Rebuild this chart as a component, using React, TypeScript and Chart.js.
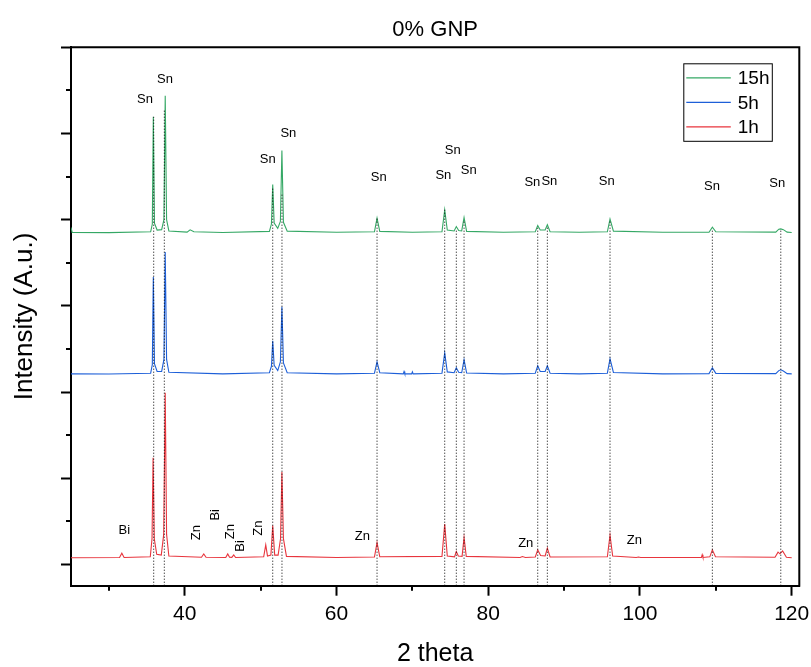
import React, { useEffect, useRef } from "react";
import { Chart, registerables } from "chart.js";

Chart.register(...registerables);

const FONT = '"Liberation Sans", Arial, Helvetica, sans-serif';

const TITLE = "0% GNP";
const X_TITLE = "2 theta";
const Y_TITLE = "Intensity (A.u.)";

const X_MIN = 25;
const X_MAX = 121;
const Y_MIN = -245;
const Y_MAX = 6000;
const X_MAJOR_TICKS = [40, 60, 80, 100, 120];
const X_MINOR_TICKS = [30, 50, 70, 90, 110];
const Y_MAJOR_TICKS = [0, 1000, 2000, 3000, 4000, 5000, 6000];
const Y_MINOR_TICKS = [500, 1500, 2500, 3500, 4500, 5500];

const SERIES_NAMES = ["15h", "5h", "1h"];
const SERIES_COLORS = ["#35a865", "#1d5fd8", "#e8353d"];

// [2theta, intensity (offset as plotted)]
const SERIES_15H: number[][] = [
  [25, 3910], [25.15, 3852], [30, 3850], [35.5, 3860], [35.72, 3950], [35.85, 5193], [36.0, 3960],
  [36.35, 3880], [36.95, 3885], [37.25, 4000], [37.42, 5437], [37.6, 4000], [37.9, 3870],
  [40.3, 3856], [40.7, 3883], [41.2, 3860], [45, 3852], [51.15, 3865], [51.42, 3950], [51.59, 4409],
  [51.78, 3960], [52.25, 3900], [52.6, 3980], [52.8, 4804], [53.0, 3970], [53.5, 3868],
  [60, 3855], [65.0, 3860], [65.34, 4018], [65.7, 3865], [70, 3855], [73.9, 3860],
  [74.26, 4115], [74.6, 3880], [75.5, 3870], [75.79, 3921], [76.1, 3875], [76.5, 3870],
  [76.81, 4025], [77.15, 3865], [82, 3855], [86.2, 3860], [86.52, 3932], [86.85, 3880],
  [87.5, 3880], [87.79, 3941], [88.15, 3860], [92, 3855], [95.7, 3860], [96.05, 4007],
  [96.5, 3868], [103, 3854], [109.1, 3855], [109.54, 3914], [110.0, 3860], [117.9, 3856],
  [118.3, 3890], [118.56, 3894], [118.9, 3885], [119.4, 3856], [120, 3852],
];

const SERIES_5H: number[][] = [
  [25, 2212], [30, 2210], [35.5, 2220], [35.72, 2320], [35.85, 3335], [36.0, 2330], [36.35, 2240],
  [36.95, 2240], [37.25, 2380], [37.42, 3625], [37.6, 2380], [37.9, 2230], [45, 2212],
  [51.15, 2225], [51.42, 2300], [51.59, 2595], [51.78, 2310], [52.25, 2250], [52.6, 2350],
  [52.8, 2989], [53.0, 2340], [53.5, 2225], [60, 2212], [65.0, 2220], [65.34, 2352],
  [65.7, 2225], [68.8, 2212], [68.9, 2240], [69.0, 2212], [69.9, 2212], [70.0, 2235],
  [70.1, 2212], [73.9, 2220], [74.26, 2456], [74.6, 2235], [75.5, 2225], [75.79, 2282],
  [76.1, 2230], [76.5, 2225], [76.81, 2375], [77.15, 2222], [82, 2212], [86.2, 2220],
  [86.52, 2305], [86.85, 2240], [87.5, 2240], [87.79, 2305], [88.15, 2220], [92, 2212],
  [95.7, 2220], [96.05, 2386], [96.5, 2228], [103, 2212], [109.1, 2215], [109.54, 2282],
  [110.0, 2218], [117.9, 2215], [118.3, 2250], [118.56, 2259], [118.9, 2245], [119.4, 2215],
  [120, 2212],
];

const SERIES_1H: number[][] = [
  [25, 80], [31.4, 82], [31.7, 132], [32.0, 82], [35.45, 90], [35.68, 300], [35.82, 1238],
  [35.98, 300], [36.3, 120], [36.9, 110], [37.22, 350], [37.42, 1992], [37.6, 350], [37.9, 100],
  [42.2, 85], [42.5, 124], [42.8, 85], [45.4, 82], [45.66, 124], [45.9, 85], [46.2, 84],
  [46.45, 113], [46.7, 82], [50.4, 90], [50.67, 229], [50.9, 100], [51.35, 110], [51.59, 452],
  [51.85, 110], [52.3, 110], [52.62, 300], [52.8, 1075], [53.0, 300], [53.4, 95], [60, 82],
  [65.0, 88], [65.34, 255], [65.7, 90], [73.9, 95], [74.26, 469], [74.6, 100], [75.55, 90],
  [75.79, 151], [76.05, 100], [76.55, 95], [76.81, 313], [77.1, 95], [84.2, 82], [84.5, 93],
  [84.9, 82], [86.2, 88], [86.52, 171], [86.9, 105], [87.5, 100], [87.79, 190], [88.15, 88],
  [95.7, 90], [96.05, 341], [96.4, 100], [99.5, 82], [99.8, 87], [100.1, 82], [108.1, 82],
  [108.2, 113], [108.3, 82], [109.2, 90], [109.54, 171], [109.95, 90], [117.8, 85],
  [118.2, 144], [118.45, 125], [118.8, 159], [119.3, 85], [120, 80],
];

const SERIES_DATA = [SERIES_15H, SERIES_5H, SERIES_1H];

// Reference (dotted) lines
const REF_LINE_X = [35.9, 37.3, 51.59, 52.81, 65.34, 74.26, 75.79, 76.81, 86.52, 87.79, 96.05, 109.54, 118.56];
const REF_LINE_TOP = [5193, 5274, 4370, 4309, 4018, 4115, 3883, 3999, 3906, 3918, 3999, 3883, 3883];

// Peak labels: [text, 2theta, intensity, rotation in degrees]
const PEAK_LABELS: [string, number, number, number][] = [
  ["Sn", 34.75, 5390, 0],
  ["Sn", 37.39, 5622, 0],
  ["Sn", 50.93, 4695, 0],
  ["Sn", 53.65, 5004, 0],
  ["Sn", 65.56, 4489, 0],
  ["Sn", 74.08, 4512, 0],
  ["Sn", 75.32, 4802, 0],
  ["Sn", 77.43, 4570, 0],
  ["Sn", 85.81, 4436, 0],
  ["Sn", 88.05, 4439, 0],
  ["Sn", 95.62, 4443, 0],
  ["Sn", 109.5, 4385, 0],
  ["Sn", 118.1, 4416, 0],
  ["Bi", 32.03, 391, 0],
  ["Zn", 41.57, 371, -90],
  ["Bi", 43.98, 577, -90],
  ["Zn", 45.96, 383, -90],
  ["Bi", 47.37, 217, -90],
  ["Zn", 49.69, 422, -90],
  ["Zn", 63.4, 325, 0],
  ["Zn", 84.94, 248, 0],
  ["Zn", 99.26, 278, 0],
];

const decorPlugin = {
  id: "decor",
  afterDraw(chart: any) {
    const { ctx, chartArea: ca, scales } = chart;
    const xs = scales.x;
    const ys = scales.y;
    ctx.save();
    // frame: top and right
    ctx.strokeStyle = "#000";
    ctx.lineWidth = 2;
    ctx.beginPath();
    ctx.moveTo(ca.left - 1, ca.top);
    ctx.lineTo(ca.right, ca.top);
    ctx.lineTo(ca.right, ca.bottom + 1);
    ctx.stroke();
    // minor ticks
    ctx.lineWidth = 2;
    ctx.beginPath();
    X_MINOR_TICKS.forEach((v) => {
      const px = Math.round(xs.getPixelForValue(v));
      ctx.moveTo(px, ca.bottom);
      ctx.lineTo(px, ca.bottom + 5);
    });
    Y_MINOR_TICKS.forEach((v) => {
      const py = Math.round(ys.getPixelForValue(v));
      ctx.moveTo(ca.left, py);
      ctx.lineTo(ca.left - 5, py);
    });
    ctx.stroke();
    // title
    ctx.fillStyle = "#000";
    ctx.textAlign = "center";
    ctx.textBaseline = "middle";
    ctx.font = `22px ${FONT}`;
    ctx.fillText(TITLE, (ca.left + ca.right) / 2, 30);
    // peak labels
    ctx.font = `13px ${FONT}`;
    PEAK_LABELS.forEach(([t, x, y, rot]) => {
      const px = xs.getPixelForValue(x);
      const py = ys.getPixelForValue(y);
      ctx.save();
      ctx.translate(px, py);
      if (rot) ctx.rotate((rot * Math.PI) / 180);
      ctx.fillText(t, 0, 0);
      ctx.restore();
    });
    // legend
    const bx = ca.right - 116;
    const by = ca.top + 16;
    const bw = 88.5;
    const bh = 77.5;
    ctx.lineWidth = 1;
    ctx.strokeStyle = "#000";
    ctx.fillStyle = "#fff";
    ctx.fillRect(bx, by, bw, bh);
    ctx.strokeRect(bx + 0.5, by + 0.5, bw, bh);
    ctx.font = `19px ${FONT}`;
    ctx.textAlign = "left";
    SERIES_NAMES.forEach((name, i) => {
      const ly = by + 14.5 + i * 24.5;
      ctx.strokeStyle = SERIES_COLORS[i];
      ctx.lineWidth = 1.2;
      ctx.beginPath();
      ctx.moveTo(bx + 3, ly);
      ctx.lineTo(bx + 47.5, ly);
      ctx.stroke();
      ctx.fillStyle = "#000";
      ctx.fillText(name, bx + 54.5, ly + 1);
    });
    ctx.restore();
  },
};

export default function App() {
  const canvasRef = useRef<HTMLCanvasElement | null>(null);

  useEffect(() => {
    if (!canvasRef.current) return;
    const refSets = REF_LINE_X.map((x, i) => ({
      label: "ref" + i,
      data: [
        [x, Y_MIN],
        [x, REF_LINE_TOP[i]],
      ],
      showLine: true,
      borderColor: "#000",
      borderWidth: 1,
      borderDash: [1, 2],
      pointRadius: 0,
      order: 0,
    }));
    const seriesSets = SERIES_NAMES.map((name, i) => ({
      label: name,
      data: SERIES_DATA[i],
      showLine: true,
      borderColor: SERIES_COLORS[i],
      borderWidth: 1.1,
      pointRadius: 0,
      order: 1 + i,
    }));
    const chart = new Chart(canvasRef.current, {
      type: "scatter",
      data: { datasets: [...refSets, ...seriesSets] as any },
      plugins: [decorPlugin],
      options: {
        animation: false,
        responsive: false,
        maintainAspectRatio: false,
        layout: { padding: { top: 47.3, right: 11.7, left: 0, bottom: 0 } },
        plugins: {
          legend: { display: false },
          title: { display: false },
          tooltip: { enabled: false },
        },
        scales: {
          x: {
            type: "linear",
            min: X_MIN,
            max: X_MAX,
            afterBuildTicks: (s: any) => {
              s.ticks = X_MAJOR_TICKS.map((v) => ({ value: v }));
            },
            afterFit: (s: any) => {
              s.height = 81.3;
              s.paddingLeft = 0;
              s.paddingRight = 0;
            },
            ticks: {
              autoSkip: false,
              maxRotation: 0,
              padding: 6,
              color: "#000",
              font: { family: FONT, size: 21 },
            },
            grid: {
              display: true,
              drawOnChartArea: false,
              drawTicks: true,
              tickLength: 10,
              tickWidth: 2,
              tickColor: "#000",
            },
            border: { display: true, color: "#000", width: 2 },
            title: {
              display: true,
              text: X_TITLE,
              color: "#000",
              font: { family: FONT, size: 25, lineHeight: 1 },
              padding: { top: 0, bottom: 0 },
            },
          },
          y: {
            type: "linear",
            min: Y_MIN,
            max: Y_MAX,
            afterBuildTicks: (s: any) => {
              s.ticks = Y_MAJOR_TICKS.map((v) => ({ value: v }));
            },
            afterFit: (s: any) => {
              s.width = 71;
              s.paddingTop = 0;
              s.paddingBottom = 0;
            },
            ticks: { display: false },
            grid: {
              display: true,
              drawOnChartArea: false,
              drawTicks: true,
              tickLength: 10,
              tickWidth: 2,
              tickColor: "#000",
            },
            border: { display: true, color: "#000", width: 2 },
            title: {
              display: true,
              text: Y_TITLE,
              color: "#000",
              font: { family: FONT, size: 26, lineHeight: 1.2 },
              padding: { top: 9.4, bottom: 0 },
            },
          },
        },
      } as any,
    });
    return () => chart.destroy();
  }, []);

  return (
    <div style={{ position: "absolute", left: 0, top: 0, width: 811, height: 667, background: "#fff" }}>
      <canvas ref={canvasRef} width={811} height={667} style={{ width: 811, height: 667, display: "block" }} />
    </div>
  );
}
